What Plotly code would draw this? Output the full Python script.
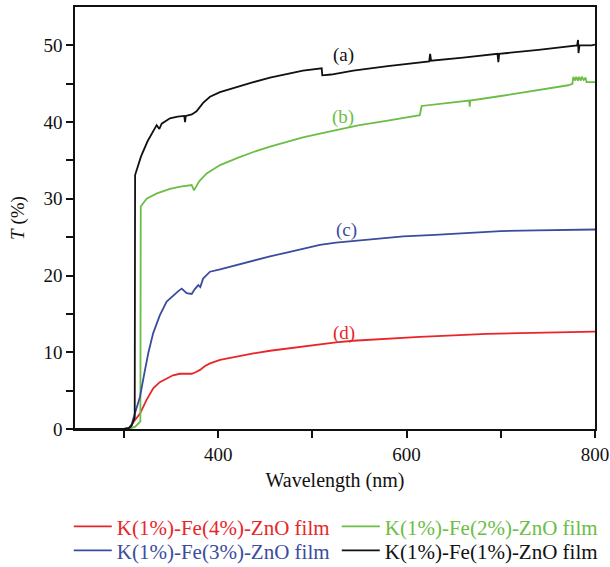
import plotly.graph_objects as go

# Wavelength (nm) and transmittance T (%)
wl_a = [248, 300, 305, 308, 311.4, 311.8, 318, 325, 334.7, 337.5, 340, 348.8, 357, 364, 364.8, 365.6,
        372, 377, 384, 391.3, 401.9, 420, 437.3, 455, 472.7, 490, 509.9, 510.5, 520, 543.4, 580,
        624, 625, 626, 660, 696.5, 697.4, 698.3, 740, 781, 782, 782.5, 783.5, 796.5, 800]
t_a = [0, 0, 0.1, 0.4, 1.5, 33.1, 35.5, 37.5, 39.6, 39.1, 39.8, 40.5, 40.7, 40.8, 40.0, 40.8,
       41.0, 41.4, 42.5, 43.3, 43.9, 44.6, 45.2, 45.8, 46.3, 46.7, 47.0, 46.1, 46.2, 46.7, 47.3,
       47.9, 48.9, 48.0, 48.4, 48.9, 47.8, 48.9, 49.4, 50.0, 50.7, 49.0, 50.0, 50.0, 50.1]

wl_b = [248, 305, 312, 317.4, 317.8, 324, 335, 348.8, 360, 371.8, 374.3, 380, 387.8, 402, 420, 437.3,
        455, 472.7, 490, 508, 530, 550, 580, 614, 616, 640, 666.5, 667, 667.5, 700, 740, 771.7,
        776, 777, 779, 780, 782, 783, 785, 786, 788, 790, 791, 798, 800]
t_b = [0, 0, 0.3, 1.0, 29.0, 30.0, 30.7, 31.3, 31.6, 31.8, 31.1, 32.3, 33.3, 34.4, 35.3, 36.1,
       36.8, 37.4, 38.0, 38.5, 39.1, 39.6, 40.2, 40.9, 42.1, 42.4, 42.8, 42.0, 42.8, 43.4, 44.2, 44.8,
       45.0, 45.9, 45.4, 45.9, 45.4, 45.9, 45.4, 45.9, 45.5, 45.8, 45.2, 45.2, 45.2]

wl_c = [248, 300, 305, 308, 310, 313, 317, 322, 326, 331, 338, 345.3, 352, 358, 361.3, 366.5, 371.9,
        375, 378.9, 381, 384, 391.3, 402, 420, 437.3, 455, 472.7, 490, 508, 525, 543.4, 570, 596.5,
        630, 667.3, 700, 738, 770, 798, 800]
t_c = [0, 0, 0.1, 0.5, 1.4, 2.6, 4.2, 7.5, 10.0, 12.5, 14.8, 16.6, 17.4, 18.0, 18.3, 17.7, 17.6,
       18.2, 18.75, 18.5, 19.6, 20.5, 20.8, 21.4, 22.0, 22.5, 23.0, 23.5, 24.0, 24.3, 24.5, 24.8, 25.1,
       25.3, 25.6, 25.8, 25.9, 26.0, 26.0, 26.0]

wl_d = [248, 300, 305, 310, 317, 324, 331, 338, 345.3, 352, 359.4, 366, 371.9, 376, 380.7, 386, 391.3,
        402, 420, 437.3, 455, 472.7, 490, 508, 525, 543.4, 580, 614, 650, 685, 720, 755.7, 798, 800]
t_d = [0, 0, 0.1, 0.9, 2.0, 3.8, 5.3, 6.1, 6.6, 7.0, 7.2, 7.2, 7.2, 7.4, 7.7, 8.2, 8.55,
       9.0, 9.45, 9.85, 10.2, 10.5, 10.8, 11.1, 11.3, 11.5, 11.8, 12.0, 12.2, 12.4, 12.5, 12.6, 12.7, 12.7]

names = ["K(1%)-Fe(4%)-ZnO film", "K(1%)-Fe(2%)-ZnO film",
         "K(1%)-Fe(3%)-ZnO film", "K(1%)-Fe(1%)-ZnO film"]
colors = ["#e8262a", "#6cbd45", "#3b4c9e", "#111111"]
labels = ["(d)", "(b)", "(c)", "(a)"]
label_pos = [(534, 12.5), (533, 40.7), (536, 25.9), (533.5, 48.8)]
legend_ids = ["legend", "legend", "legend2", "legend2"]

series = [(wl_d, t_d), (wl_b, t_b), (wl_c, t_c), (wl_a, t_a)]

FONT = "Liberation Serif"
fig = go.Figure()
for (x, y), n, c, lg in zip(series, names, colors, legend_ids):
    fig.add_trace(go.Scatter(
        x=x, y=y, mode="lines", line=dict(color=c, width=1.8), legend=lg,
        name=f'<span style="color:{c}">{n}</span>'))

for lab, (lx, ly), c in zip(labels, label_pos, colors):
    fig.add_annotation(x=lx, y=ly, text=lab, showarrow=False,
                       font=dict(family=FONT, size=19, color=c))

leg_common = dict(orientation="h", xanchor="left", yanchor="top",
                  entrywidth=215, font=dict(family=FONT, size=21),
                  itemwidth=38, tracegroupgap=0, bgcolor="rgba(0,0,0,0)")

fig.update_layout(
    width=610, height=567,
    margin=dict(l=75, r=15, t=7, b=138, autoexpand=False),
    paper_bgcolor="white", plot_bgcolor="white",
    font=dict(family=FONT, size=19, color="#111"),
    showlegend=True,
    legend=dict(x=-0.012, y=-0.183, **leg_common),
    legend2=dict(x=-0.012, y=-0.240, **leg_common),
    xaxis=dict(range=[248, 800], showline=True, linecolor="#111", linewidth=1.5, mirror=True,
               ticks="outside", ticklen=7, tickwidth=1.5, tickcolor="#111",
               tickvals=[400, 600, 800], showgrid=False, zeroline=False,
               minor=dict(tickvals=[300, 500, 700], ticks="outside", ticklen=7, tickwidth=1.5,
                          tickcolor="#111", showgrid=False),
               title=dict(text="Wavelength (nm)", font=dict(family=FONT, size=20), standoff=9),
               tickfont=dict(family=FONT, size=19)),
    yaxis=dict(range=[0, 55], showline=True, linecolor="#111", linewidth=1.5, mirror=True,
               ticks="outside", ticklen=7, tickwidth=1.5, tickcolor="#111",
               tickvals=[0, 10, 20, 30, 40, 50], showgrid=False, zeroline=False,
               minor=dict(tickvals=[5, 15, 25, 35, 45], ticks="outside", ticklen=7, tickwidth=1.5,
                          tickcolor="#111", showgrid=False),
               title=dict(text="<i>T</i> (%)", font=dict(family=FONT, size=19), standoff=14),
               tickfont=dict(family=FONT, size=19)),
)

fig.write_html("out.html", config={"displayModeBar": False},
               post_script="document.body.style.margin='0';document.body.style.overflow='hidden';")
